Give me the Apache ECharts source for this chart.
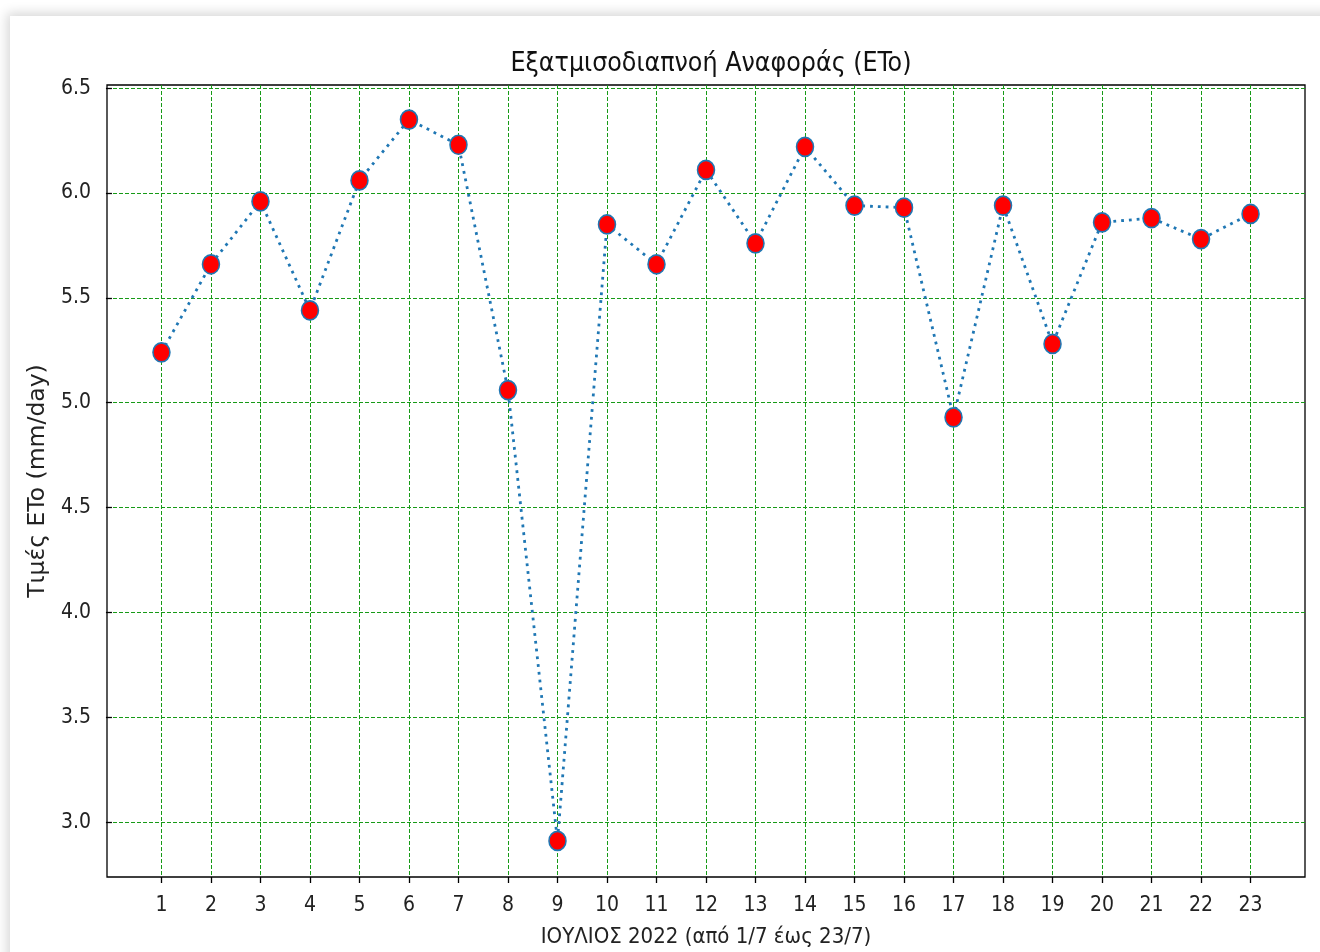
<!DOCTYPE html>
<html>
<head>
<meta charset="utf-8">
<title>Εξατμισοδιαπνοή Αναφοράς (ETo)</title>
<script src="https://cdn.jsdelivr.net/npm/echarts@6/dist/echarts.min.js"></script>
<style>
  html, body { margin: 0; padding: 0; width: 1320px; height: 952px; overflow: hidden; background: #ffffff; }
  #card {
    position: absolute; left: 10px; top: 16px; width: 1340px; height: 970px;
    background: #ffffff; box-shadow: 0 0 11px 3px rgba(0,0,0,0.16);
  }
  #chart { position: absolute; left: 0; top: 0; width: 1320px; height: 952px; }
</style>
</head>
<body>
<div id="card"></div>
<div id="chart"></div>
<script>
// Days of July 2022 and the daily reference evapotranspiration (mm/day)
const days = [1, 2, 3, 4, 5, 6, 7, 8, 9, 10, 11, 12, 13, 14, 15, 16, 17, 18, 19, 20, 21, 22, 23];
const etoValues = [5.24, 5.66, 5.96, 5.44, 6.06, 6.35, 6.23, 5.06, 2.91, 5.85, 5.66, 6.11,
                   5.76, 6.22, 5.94, 5.93, 4.93, 5.94, 5.28, 5.86, 5.88, 5.78, 5.90];
const yTicks = [3.0, 3.5, 4.0, 4.5, 5.0, 5.5, 6.0, 6.5];

const titleText = 'Εξατμισοδιαπνοή Αναφοράς (ETo)';
const xName = 'ΙΟΥΛΙΟΣ 2022 (από 1/7 έως 23/7)';
const yName = 'Τιμές ETo (mm/day)';

const FONT = '"DejaVu Sans Condensed", "DejaVu Sans", sans-serif';
const points = days.map((d, i) => [d, etoValues[i]]);

// green dashed grid, one fresh object per axis
const gridLine = () => ({ show: true, lineStyle: { color: '#179a17', width: 1, type: [4, 2] } });
const tick = (values) => ({
  show: true, inside: false, length: 6, customValues: values,
  lineStyle: { color: '#000', width: 1.3 }
});

const chart = echarts.init(document.getElementById('chart'), null, { renderer: 'canvas' });
chart.setOption({
  animation: false,
  backgroundColor: 'transparent',
  title: {
    text: titleText,
    left: 706,
    top: 46,
    textAlign: 'center',
    textStyle: { fontFamily: FONT, fontSize: 26.5, fontWeight: 'normal', color: '#111' }
  },
  grid: {
    left: 107, right: 15, top: 85, bottom: 75,
    containLabel: false,
    outerBoundsMode: 'none',
    show: true, borderColor: '#000', borderWidth: 1.3, backgroundColor: 'transparent'
  },
  xAxis: {
    type: 'value',
    min: -0.1, max: 24.1,
    name: xName,
    nameLocation: 'middle',
    nameGap: 49,
    nameTextStyle: { fontFamily: FONT, fontSize: 22, color: '#222' },
    axisLine: { show: false },
    axisTick: tick(days),
    axisLabel: { customValues: days, margin: 18, fontFamily: FONT, fontSize: 21, color: '#222' },
    splitLine: gridLine()
  },
  yAxis: {
    type: 'value',
    min: 2.738, max: 6.515,
    name: yName,
    nameLocation: 'middle',
    nameGap: 56,
    nameTextStyle: { fontFamily: '"DejaVu Sans", sans-serif', fontSize: 23.5, color: '#222' },
    axisLine: { show: false },
    axisTick: tick(yTicks),
    axisLabel: {
      customValues: yTicks, margin: 16, fontFamily: FONT, fontSize: 21, color: '#222',
      formatter: v => v.toFixed(1)
    },
    splitLine: gridLine()
  },
  series: [{
    type: 'line',
    data: points,
    symbol: 'circle',
    symbolSize: [17, 19],
    itemStyle: { color: '#ff0000', borderColor: '#1f77b4', borderWidth: 1.6 },
    lineStyle: { color: '#1f77b4', width: 2.8, type: [2.8, 5] },
    z: 3
  }]
});
</script>
</body>
</html>
